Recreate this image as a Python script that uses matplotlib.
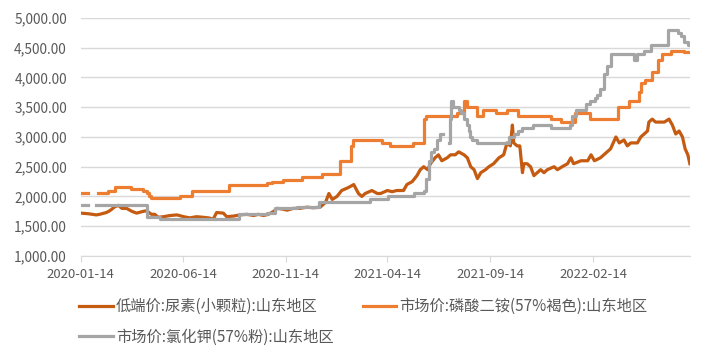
import matplotlib
matplotlib.use("Agg")
import matplotlib.pyplot as plt
import matplotlib.ticker as mticker
import numpy as np
import pandas as pd

plt.rcParams["font.family"] = ["Noto Sans CJK SC", "DejaVu Sans"]

start = pd.Timestamp("2020-01-14")
end_day = 906
nan = np.nan

# 低端价:尿素(小颗粒):山东地区  (days since 2020-01-14, value)
urea_day = [0, 11, 23, 28, 38, 43, 51, 56, 61, 68, 76, 83, 93, 98, 105, 110, 115, 123, 133, 143,
            153, 162, 172, 182, 190, 197, 202, 212, 217, 227, 237, 247, 257, 264, 272, 279, 287, 292,
            299, 307, 316, 326, 336, 346, 356, 364, 369, 374, 381, 388, 398, 406, 413, 418, 423, 433,
            441, 446, 456, 463, 470, 480, 485, 493, 500, 505, 510, 516, 520, 527, 532, 537, 545, 550,
            557, 562, 570, 575, 580, 585, 590, 595, 602, 607, 614, 622, 629, 634, 639, 642, 644, 649,
            653, 657, 659, 664, 669, 674, 679, 684, 689, 694, 704, 709, 716, 724, 729, 733, 744, 754,
            759, 764, 773, 783, 788, 796, 801, 808, 813, 818, 828, 833, 838, 843, 845, 850, 855, 860,
            868, 875, 880, 885, 890, 895, 899, 903, 906]
urea_val = [1720, 1710, 1690, 1700, 1730, 1760, 1830, 1850, 1800, 1800, 1750, 1720, 1750, 1760, 1700,
            1700, 1650, 1660, 1680, 1690, 1660, 1640, 1660, 1650, 1640, 1620, 1730, 1720, 1660, 1670,
            1690, 1700, 1680, 1700, 1680, 1700, 1750, 1800, 1790, 1770, 1800, 1800, 1820, 1810, 1820,
            1900, 2050, 1950, 2000, 2100, 2150, 2200, 2050, 2000, 2050, 2100, 2050, 2050, 2100, 2080,
            2100, 2100, 2200, 2250, 2350, 2450, 2500, 2450, 2550, 2650, 2700, 2600, 2650, 2700, 2700,
            2750, 2700, 2650, 2500, 2450, 2300, 2400, 2450, 2500, 2550, 2650, 2700, 2900, 2850, 3200,
            2900, 2850, 2850, 2400, 2550, 2550, 2500, 2350, 2400, 2450, 2400, 2450, 2500, 2450, 2500,
            2550, 2650, 2550, 2600, 2600, 2700, 2600, 2650, 2750, 2800, 3000, 2900, 2950, 2850, 2900,
            2900, 3000, 3050, 3100, 3250, 3300, 3250, 3250, 3250, 3300, 3200, 3050, 3100, 3000, 2800,
            2700, 2550]

# 市场价:磷酸二铵(57%褐色):山东地区  (change points)
dap_day = [0, 11, 26, 41, 51, 75, 93, 98, 101, 104, 148, 165, 220, 277, 284, 301, 329, 359, 385, 402,
           405, 448, 460, 494, 510, 514, 560, 570, 575, 589, 599, 618, 634, 650, 699, 714, 735, 758,
           799, 816, 830, 834, 839, 850, 858, 865, 878, 897, 906]
dap_val = [2050, nan, 2050, 2100, 2160, 2130, 2100, 2050, 2000, 1980, 2000, 2100, 2200, 2230, 2250,
           2270, 2330, 2380, 2600, 2850, 2950, 2900, 2850, 2900, 3300, 3350, 3400, 3600, 3500, 3350,
           3450, 3400, 3450, 3350, 3300, 3250, 3400, 3300, 3500, 3600, 3750, 3900, 3950, 4100, 4300,
           4400, 4450, 4420, 4420]

# 市场价:氯化钾(57%粉):山东地区  (change points)
kcl_day = [0, 11, 23, 98, 100, 118, 236, 277, 289, 321, 354, 430, 457, 496, 510, 514, 518, 521, 526,
           530, 534, 537, 539, 547, 549, 550, 553, 562, 566, 570, 574, 577, 579, 582, 590, 637, 644,
           650, 657, 672, 700, 728, 731, 736, 752, 758, 765, 768, 773, 778, 783, 788, 823, 827, 838,
           848, 873, 888, 893, 898, 903, 906]
kcl_val = [1850, nan, 1850, 1650, 1650, 1620, 1700, 1720, 1800, 1820, 1900, 1950, 2000, 2050, 2100,
           2300, 2600, 2750, 2800, 2950, 3050, 3050, nan, 2900, 3300, 3600, 3500, 3450, 3400, 3300,
           3200, 3100, 3000, 2950, 2900, 3000, 3050, 3100, 3150, 3200, 3150, 3200, 3350, 3450, 3550,
           3600, 3650, 3700, 3800, 4050, 4200, 4400, 4300, 4400, 4450, 4550, 4800, 4750, 4700, 4600,
           4550, 4550]

tick_dates = ["2020-01-14", "2020-06-14", "2020-11-14", "2021-04-14", "2021-09-14", "2022-02-14"]
labels = ["低端价:尿素(小颗粒):山东地区", "市场价:磷酸二铵(57%褐色):山东地区", "市场价:氯化钾(57%粉):山东地区"]
colors = ["#C55A11", "#ED7D31", "#A5A5A5"]


def to_dates(days):
    return start + pd.to_timedelta(days, unit="D")


fig = plt.figure(figsize=(7.09, 3.59), dpi=100)
ax = fig.add_axes([0.114, 0.287, 0.859, 0.663])

l1, = ax.plot(to_dates(urea_day), urea_val, color=colors[0], lw=2.3, label=labels[0])
l2, = ax.plot(to_dates(dap_day), dap_val, color=colors[1], lw=2.3, drawstyle="steps-post", label=labels[1])
l3, = ax.plot(to_dates(kcl_day), kcl_val, color=colors[2], lw=2.3, drawstyle="steps-post", label=labels[2])

ax.set_xlim(start, start + pd.Timedelta(days=end_day))
ax.set_ylim(1000, 5000)
ax.set_yticks(np.arange(1000, 5001, 500))
ax.yaxis.set_major_formatter(mticker.FuncFormatter(lambda v, p: f"{v:,.2f}"))
ax.set_xticks(pd.to_datetime(tick_dates))
ax.set_xticklabels(tick_dates)

ax.grid(axis="y", color="#D9D9D9", lw=1)
ax.set_axisbelow(True)
for s in ["top", "right", "left"]:
    ax.spines[s].set_visible(False)
ax.spines["bottom"].set_color("#D9D9D9")
ax.tick_params(axis="y", length=0, pad=10, labelsize=9.8, labelcolor="#595959")
ax.tick_params(axis="x", length=4, color="#D9D9D9", pad=5, labelsize=9.5, labelcolor="#595959")

fig.legend([l1, l3, l2], [labels[0], labels[2], labels[1]], ncol=2, loc="upper left",
           bbox_to_anchor=(0.112, 0.17), frameon=False, fontsize=11, borderpad=0,
           borderaxespad=0, handlelength=2.2, handletextpad=0.2, columnspacing=1.9,
           labelspacing=0.9, labelcolor="#595959")

fig.savefig("out.png", dpi=100)
